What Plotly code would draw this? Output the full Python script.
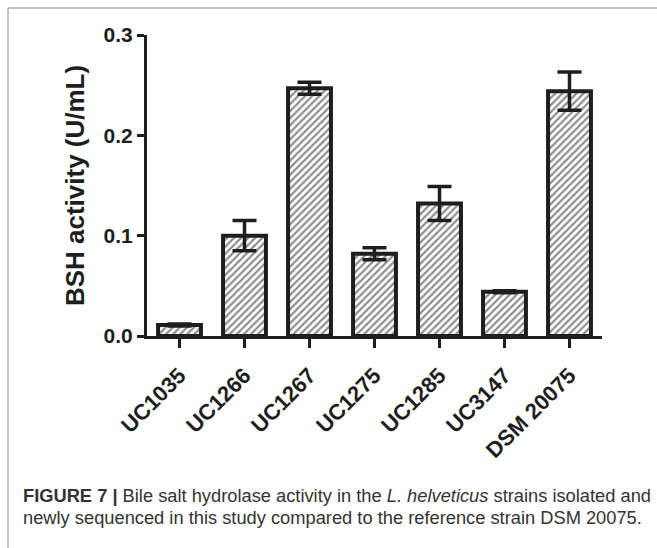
import plotly.graph_objects as go

strains = ["UC1035", "UC1266", "UC1267", "UC1275", "UC1285", "UC3147", "DSM 20075"]
bsh_activity = [0.011, 0.100, 0.247, 0.082, 0.132, 0.044, 0.244]
bsh_error = [0.001, 0.015, 0.006, 0.006, 0.017, 0.001, 0.019]
y_ticks = [0.0, 0.1, 0.2, 0.3]

INK = "#1e1e1e"
W, H = 657, 548
L, R, T, B = 147, 55, 35, 212
pw, ph = W - L - R, H - T - B

def px(x):
    return (x - L) / pw

def py(y):
    return (H - B - y) / ph

fig = go.Figure(go.Bar(
    x=strains, y=bsh_activity,
    width=0.66,
    marker=dict(color="white", line=dict(color=INK, width=4),
                pattern=dict(shape="/", fgcolor=INK, bgcolor="white", size=5, solidity=0.45)),
    error_y=dict(type="data", array=bsh_error, visible=True, color=INK, thickness=3.5, width=12),
))

fig.update_layout(
    width=W, height=H,
    margin=dict(l=L, r=R, t=T, b=B, pad=0),
    paper_bgcolor="white", plot_bgcolor="white",
    showlegend=False,
    font=dict(family="Liberation Sans, Arial, sans-serif", color=INK),
    xaxis=dict(range=[-0.5, 6.5], showline=True, linecolor=INK, linewidth=3,
               ticks="outside", ticklen=9, tickwidth=3, tickcolor=INK,
               tickangle=-45, ticklabelstandoff=6,
               tickfont=dict(size=22, family="Liberation Sans, Arial", color=INK),
               showgrid=False, zeroline=False),
    yaxis=dict(range=[0, 0.3], showline=True, linecolor=INK, linewidth=3,
               ticks="outside", ticklen=7, tickwidth=3, tickcolor=INK,
               tickvals=y_ticks, tickformat=".1f",
               tickfont=dict(size=21, family="Liberation Sans, Arial", color=INK),
               title=dict(text="<b>BSH activity (U/mL)</b>", font=dict(size=26, color=INK), standoff=12),
               showgrid=False, zeroline=False),
)
fig.update_xaxes(tickfont=dict(weight="bold"))
fig.update_yaxes(tickfont=dict(weight="bold"))

# figure border (top and left)
fig.add_shape(type="line", xref="paper", yref="paper", x0=px(8), x1=px(700), y0=py(8), y1=py(8),
              line=dict(color="#8a8a8a", width=1))
fig.add_shape(type="line", xref="paper", yref="paper", x0=px(8), x1=px(8), y0=py(8), y1=py(600),
              line=dict(color="#8a8a8a", width=1))

cap_font = dict(family="Liberation Sans, Arial, sans-serif", size=18.3, color="#333333")
fig.add_annotation(xref="paper", yref="paper", x=px(21), y=py(495), xanchor="left", yanchor="middle",
                   showarrow=False, font=cap_font,
                   text="<b>FIGURE 7 |</b> Bile salt hydrolase activity in the <i>L. helveticus</i> strains isolated and")
fig.add_annotation(xref="paper", yref="paper", x=px(21), y=py(517), xanchor="left", yanchor="middle",
                   showarrow=False, font=cap_font,
                   text="newly sequenced in this study compared to the reference strain DSM 20075.")

fig.write_html("out.html")
